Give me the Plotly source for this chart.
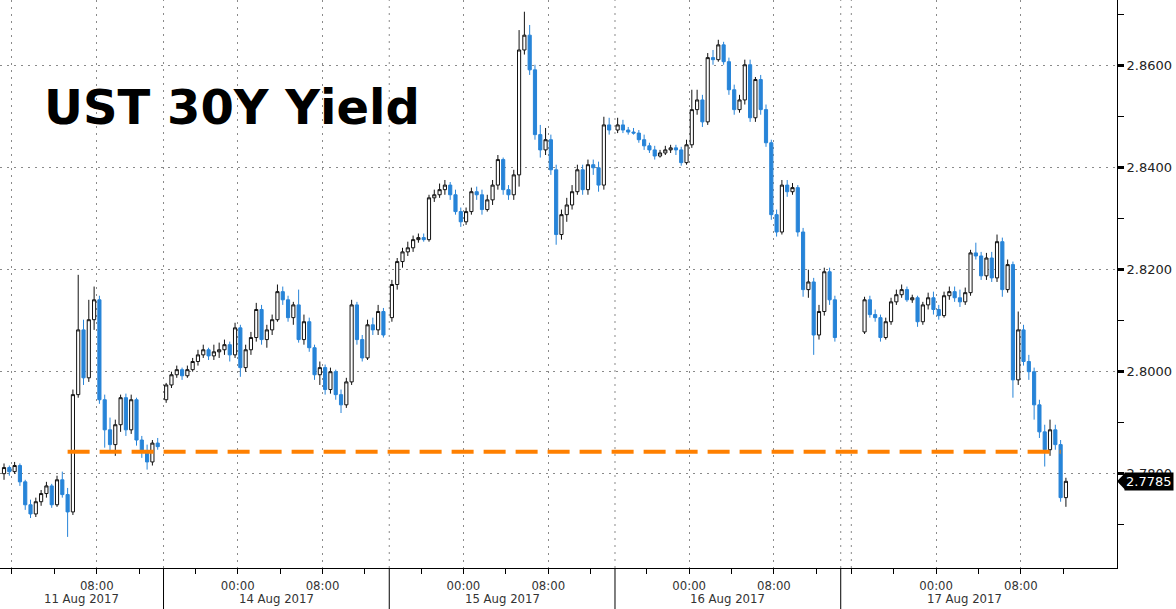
import plotly.graph_objects as go

# ---------------- axis / session definitions (trading-hour axis, pauses removed) ----------------
session_labels = ["11 Aug 2017", "14 Aug 2017", "15 Aug 2017", "16 Aug 2017", "17 Aug 2017"]
session_start = [-5.87, 15.43, 36.73, 58.03, 79.33]
session_open_clock = [17, 17, 17, 17, 15]
session_length = [21.3, 21.3, 21.3, 21.3, 23.3]
first_bar_offset = [6.0, 0.0, 0.0, 0.0, 2.0]
BAR_HOURS = 0.5
X_MAX = 105.4
Y_RANGE = [2.7615, 2.8729]
y_major = [2.78, 2.80, 2.82, 2.84, 2.86]
y_minor = [2.77, 2.79, 2.81, 2.83, 2.85, 2.87]

# ---------------- data (30-minute candles) ----------------
aug11_open = [2.7800, 2.7812, 2.7804, 2.7816, 2.7784, 2.7739, 2.7721, 2.7745, 2.7761, 2.7776,
              2.7739, 2.7788, 2.7759, 2.7725, 2.7955, 2.8082, 2.7988, 2.8102, 2.8141, 2.7945,
              2.7886, 2.7857, 2.7896, 2.7949, 2.7886, 2.7945, 2.7866, 2.7843, 2.7823, 2.7860]
aug11_high = [2.7820, 2.7816, 2.7823, 2.7820, 2.7788, 2.7749, 2.7753, 2.7768, 2.7784, 2.7780,
              2.7796, 2.7804, 2.7772, 2.7965, 2.8190, 2.8102, 2.8141, 2.8167, 2.8149, 2.7955,
              2.7910, 2.7906, 2.7955, 2.7957, 2.7955, 2.7949, 2.7874, 2.7857, 2.7866, 2.7870]
aug11_low = [2.7788, 2.7796, 2.7800, 2.7776, 2.7729, 2.7713, 2.7715, 2.7737, 2.7753, 2.7733,
             2.7735, 2.7753, 2.7676, 2.7719, 2.7949, 2.7974, 2.7980, 2.8082, 2.7937, 2.7851,
             2.7843, 2.7835, 2.7882, 2.7874, 2.7878, 2.7855, 2.7831, 2.7808, 2.7816, 2.7847]
aug11_close = [2.7812, 2.7804, 2.7816, 2.7784, 2.7739, 2.7721, 2.7745, 2.7761, 2.7776, 2.7739,
               2.7788, 2.7759, 2.7725, 2.7955, 2.8082, 2.7988, 2.8102, 2.8141, 2.7945, 2.7886,
               2.7857, 2.7896, 2.7949, 2.7886, 2.7945, 2.7866, 2.7843, 2.7823, 2.7860, 2.7853]

aug14_open = [2.7945, 2.7974, 2.7994, 2.8004, 2.7992, 2.8004, 2.8020, 2.8033, 2.8043, 2.8031,
              2.8039, 2.8043, 2.8053, 2.8033, 2.8086, 2.8008, 2.8043, 2.8067, 2.8122, 2.8063,
              2.8082, 2.8102, 2.8157, 2.8141, 2.8106, 2.8131, 2.8063, 2.8098, 2.8047, 2.7994,
              2.8008, 2.7965, 2.8000, 2.7955, 2.7935, 2.7980, 2.8131, 2.8063, 2.8027, 2.8092,
              2.8082, 2.8118]
aug14_high = [2.7978, 2.8000, 2.8012, 2.8008, 2.8012, 2.8027, 2.8043, 2.8053, 2.8047, 2.8053,
              2.8057, 2.8063, 2.8059, 2.8096, 2.8092, 2.8053, 2.8078, 2.8135, 2.8131, 2.8092,
              2.8112, 2.8171, 2.8167, 2.8149, 2.8137, 2.8161, 2.8112, 2.8106, 2.8053, 2.8020,
              2.8014, 2.8008, 2.8004, 2.7965, 2.7988, 2.8141, 2.8137, 2.8072, 2.8102, 2.8106,
              2.8131, 2.8125]
aug14_low = [2.7939, 2.7968, 2.7988, 2.7984, 2.7988, 2.8000, 2.8012, 2.8027, 2.8023, 2.8023,
             2.8027, 2.8033, 2.8020, 2.8027, 2.7990, 2.8000, 2.8033, 2.8059, 2.8053, 2.8047,
             2.8072, 2.8098, 2.8131, 2.8098, 2.8092, 2.8057, 2.8053, 2.8039, 2.7984, 2.7974,
             2.7955, 2.7957, 2.7945, 2.7919, 2.7929, 2.7974, 2.8053, 2.8020, 2.8023, 2.8072,
             2.8072, 2.8067]
aug14_close = [2.7974, 2.7994, 2.8004, 2.7992, 2.8004, 2.8020, 2.8033, 2.8043, 2.8031, 2.8039,
               2.8043, 2.8053, 2.8033, 2.8086, 2.8008, 2.8043, 2.8067, 2.8122, 2.8063, 2.8082,
               2.8102, 2.8157, 2.8141, 2.8106, 2.8131, 2.8063, 2.8098, 2.8047, 2.7994, 2.8008,
               2.7965, 2.8000, 2.7955, 2.7935, 2.7980, 2.8131, 2.8063, 2.8027, 2.8092, 2.8082,
               2.8118, 2.8072]

aug15_open = [2.8106, 2.8171, 2.8216, 2.8235, 2.8243, 2.8259, 2.8263, 2.8259, 2.8341, 2.8347,
              2.8357, 2.8366, 2.8347, 2.8314, 2.8294, 2.8314, 2.8353, 2.8347, 2.8318, 2.8337,
              2.8366, 2.8416, 2.8357, 2.8347, 2.8386, 2.8631, 2.8660, 2.8592, 2.8465, 2.8435,
              2.8455, 2.8396, 2.8269, 2.8308, 2.8327, 2.8353, 2.8396, 2.8357, 2.8406, 2.8400,
              2.8366, 2.8484]
aug15_high = [2.8180, 2.8223, 2.8243, 2.8255, 2.8267, 2.8271, 2.8271, 2.8347, 2.8357, 2.8369,
              2.8376, 2.8372, 2.8357, 2.8322, 2.8322, 2.8361, 2.8363, 2.8357, 2.8347, 2.8376,
              2.8425, 2.8420, 2.8366, 2.8396, 2.8670, 2.8706, 2.8680, 2.8602, 2.8484, 2.8478,
              2.8465, 2.8406, 2.8318, 2.8341, 2.8366, 2.8406, 2.8406, 2.8416, 2.8416, 2.8412,
              2.8500, 2.8498]
aug15_low = [2.8098, 2.8161, 2.8204, 2.8227, 2.8235, 2.8253, 2.8255, 2.8255, 2.8333, 2.8341,
             2.8347, 2.8337, 2.8308, 2.8284, 2.8288, 2.8308, 2.8337, 2.8308, 2.8314, 2.8327,
             2.8357, 2.8347, 2.8337, 2.8337, 2.8363, 2.8622, 2.8582, 2.8455, 2.8420, 2.8425,
             2.8386, 2.8249, 2.8259, 2.8294, 2.8318, 2.8347, 2.8347, 2.8347, 2.8386, 2.8353,
             2.8357, 2.8465]
aug15_close = [2.8171, 2.8216, 2.8235, 2.8243, 2.8259, 2.8263, 2.8259, 2.8341, 2.8347, 2.8357,
               2.8366, 2.8347, 2.8314, 2.8294, 2.8314, 2.8353, 2.8347, 2.8318, 2.8337, 2.8366,
               2.8416, 2.8357, 2.8347, 2.8386, 2.8631, 2.8660, 2.8592, 2.8465, 2.8435, 2.8455,
               2.8396, 2.8269, 2.8308, 2.8327, 2.8353, 2.8396, 2.8357, 2.8406, 2.8400, 2.8366,
               2.8484, 2.8474]

aug16_open = [2.8474, 2.8484, 2.8474, 2.8470, 2.8468, 2.8455, 2.8443, 2.8435, 2.8423, 2.8429,
              2.8435, 2.8439, 2.8435, 2.8410, 2.8445, 2.8514, 2.8533, 2.8490, 2.8616, 2.8612,
              2.8641, 2.8608, 2.8553, 2.8514, 2.8533, 2.8602, 2.8498, 2.8573, 2.8514, 2.8449,
              2.8308, 2.8274, 2.8366, 2.8353, 2.8361, 2.8274, 2.8161, 2.8176, 2.8072, 2.8118,
              2.8196, 2.8141]
aug16_high = [2.8498, 2.8494, 2.8480, 2.8478, 2.8474, 2.8465, 2.8449, 2.8443, 2.8435, 2.8443,
              2.8445, 2.8445, 2.8441, 2.8455, 2.8553, 2.8553, 2.8543, 2.8625, 2.8631, 2.8651,
              2.8647, 2.8616, 2.8563, 2.8543, 2.8612, 2.8612, 2.8578, 2.8582, 2.8524, 2.8455,
              2.8318, 2.8376, 2.8376, 2.8370, 2.8366, 2.8282, 2.8200, 2.8184, 2.8131, 2.8204,
              2.8204, 2.8149]
aug16_low = [2.8468, 2.8468, 2.8465, 2.8465, 2.8449, 2.8435, 2.8429, 2.8416, 2.8420, 2.8425,
             2.8429, 2.8425, 2.8404, 2.8406, 2.8439, 2.8504, 2.8480, 2.8484, 2.8602, 2.8608,
             2.8602, 2.8543, 2.8504, 2.8508, 2.8524, 2.8490, 2.8490, 2.8504, 2.8441, 2.8298,
             2.8265, 2.8269, 2.8343, 2.8347, 2.8265, 2.8147, 2.8145, 2.8033, 2.8063, 2.8110,
             2.8131, 2.8059]
aug16_close = [2.8484, 2.8474, 2.8470, 2.8468, 2.8455, 2.8443, 2.8435, 2.8423, 2.8429, 2.8435,
               2.8439, 2.8435, 2.8410, 2.8445, 2.8514, 2.8533, 2.8490, 2.8616, 2.8612, 2.8641,
               2.8608, 2.8553, 2.8514, 2.8533, 2.8602, 2.8498, 2.8573, 2.8514, 2.8449, 2.8308,
               2.8274, 2.8366, 2.8353, 2.8361, 2.8274, 2.8161, 2.8176, 2.8072, 2.8118, 2.8196,
               2.8141, 2.8067]

aug17_open = [2.8078, 2.8141, 2.8112, 2.8106, 2.8067, 2.8098, 2.8137, 2.8151, 2.8161, 2.8141,
              2.8145, 2.8098, 2.8131, 2.8145, 2.8122, 2.8110, 2.8149, 2.8157, 2.8145, 2.8137,
              2.8155, 2.8233, 2.8227, 2.8188, 2.8223, 2.8184, 2.8255, 2.8161, 2.8210, 2.7984,
              2.8082, 2.8020, 2.8000, 2.7935, 2.7882, 2.7847, 2.7886, 2.7857, 2.7753]
aug17_high = [2.8147, 2.8149, 2.8122, 2.8112, 2.8106, 2.8145, 2.8161, 2.8171, 2.8167, 2.8151,
              2.8149, 2.8137, 2.8155, 2.8157, 2.8131, 2.8157, 2.8167, 2.8167, 2.8161, 2.8165,
              2.8239, 2.8253, 2.8235, 2.8233, 2.8235, 2.8269, 2.8263, 2.8220, 2.8216, 2.8118,
              2.8092, 2.8033, 2.8008, 2.7945, 2.7896, 2.7906, 2.7896, 2.7866, 2.7792]
aug17_low = [2.8074, 2.8106, 2.8098, 2.8059, 2.8063, 2.8092, 2.8131, 2.8145, 2.8137, 2.8135,
             2.8088, 2.8092, 2.8122, 2.8112, 2.8102, 2.8106, 2.8141, 2.8137, 2.8127, 2.8131,
             2.8149, 2.8220, 2.8180, 2.8180, 2.8176, 2.8176, 2.8147, 2.8155, 2.7949, 2.7974,
             2.8012, 2.7984, 2.7906, 2.7870, 2.7814, 2.7835, 2.7847, 2.7745, 2.7735]
aug17_close = [2.8141, 2.8112, 2.8106, 2.8067, 2.8098, 2.8137, 2.8151, 2.8161, 2.8141, 2.8145,
               2.8098, 2.8131, 2.8145, 2.8122, 2.8110, 2.8149, 2.8157, 2.8145, 2.8137, 2.8155,
               2.8233, 2.8227, 2.8188, 2.8223, 2.8184, 2.8255, 2.8161, 2.8210, 2.7984, 2.8082,
               2.8020, 2.8000, 2.7935, 2.7882, 2.7847, 2.7886, 2.7857, 2.7753, 2.7785]

last_value = 2.7785
ref_level = 2.7843          # orange dashed reference level
ref_from = (0, 12)          # (session, bar) where reference line starts
ref_to = (4, 37)            # (session, bar) where reference line ends

title_text = "UST 30Y Yield"

# ---------------- build series ----------------
opens = [aug11_open, aug14_open, aug15_open, aug16_open, aug17_open]
highs = [aug11_high, aug14_high, aug15_high, aug16_high, aug17_high]
lows = [aug11_low, aug14_low, aug15_low, aug16_low, aug17_low]
closes = [aug11_close, aug14_close, aug15_close, aug16_close, aug17_close]

bar_x = []
X, O, H, L, C = [], [], [], [], []
for k in range(len(session_labels)):
    n = min(len(opens[k]), len(highs[k]), len(lows[k]), len(closes[k]))
    xs = [session_start[k] + first_bar_offset[k] + (i + 0.5) * BAR_HOURS for i in range(n)]
    bar_x.append(xs)
    X += xs
    O += opens[k][:n]
    H += highs[k][:n]
    L += lows[k][:n]
    C += closes[k][:n]

BLUE = "#2784d8"
fig = go.Figure()
fig.add_trace(go.Candlestick(
    x=X, open=O, high=H, low=L, close=C,
    increasing=dict(fillcolor="white", line=dict(color="#111111", width=1)),
    decreasing=dict(fillcolor=BLUE, line=dict(color=BLUE, width=1)),
    whiskerwidth=0, showlegend=False, hoverinfo="skip",
))


def clock_pos(k, hour):
    d = (hour - session_open_clock[k]) % 24
    if d > session_length[k]:
        return None
    return session_start[k] + d


major_vals, major_text, minor_vals = [], [], []
for k in range(len(session_labels)):
    for hr in (0, 8):
        p = clock_pos(k, hr)
        if p is not None and 0 <= p <= X_MAX:
            major_vals.append(p)
            major_text.append(f"{hr:02d}:00" if p > 3 else "")
    for hr in (16, 20, 0, 4, 8, 12):
        p = clock_pos(k, hr)
        if p is not None and 0 <= p <= X_MAX:
            minor_vals.append(p)

GRID = "#8a8a8a"
shapes = []
# session separators: dotted grid inside, solid tick below axis
for k in range(1, len(session_labels)):
    xs = session_start[k]
    shapes.append(dict(type="line", xref="x", yref="paper", x0=xs, x1=xs, y0=0, y1=1,
                       line=dict(color=GRID, width=1, dash="2px,5px"), layer="below"))
    shapes.append(dict(type="line", xref="x", yref="paper", x0=xs, x1=xs, y0=0, y1=-0.09,
                       line=dict(color="black", width=1)))
# extra grid at first 4h mark of the last (early-open) session
p_extra = clock_pos(4, 16)
shapes.append(dict(type="line", xref="x", yref="paper", x0=p_extra, x1=p_extra, y0=0, y1=1,
                   line=dict(color=GRID, width=1, dash="2px,5px"), layer="below"))
# orange reference line
shapes.append(dict(type="line", xref="x", yref="y",
                   x0=bar_x[ref_from[0]][ref_from[1]], x1=bar_x[ref_to[0]][ref_to[1]],
                   y0=ref_level, y1=ref_level,
                   line=dict(color="#ff8000", width=4, dash="22px,10px"), layer="above"))
# small pointer of the last-value tag
dy = 0.0017
shapes.append(dict(type="path", xref="paper", yref="y",
                   path=f"M 1.0 {last_value} L 1.0075 {last_value + dy} L 1.0075 {last_value - dy} Z",
                   fillcolor="black", line=dict(color="black", width=0)))

annotations = []
for k, lab in enumerate(session_labels):
    a = max(session_start[k], 0)
    b = min(session_start[k] + session_length[k], X_MAX)
    annotations.append(dict(x=(a + b) / 2, y=0, xref="x", yref="paper", text=lab,
                            showarrow=False, yanchor="top", yshift=-21,
                            font=dict(family="DejaVu Sans Condensed, DejaVu Sans", size=13, color="#333333")))
annotations.append(dict(x=0.038, y=0.812, xref="paper", yref="paper", xanchor="left", yanchor="middle",
                        text=f"<b>{title_text}</b>", showarrow=False,
                        font=dict(family="DejaVu Sans", size=48, color="black")))
annotations.append(dict(x=1, y=last_value, xref="paper", yref="y", xanchor="left", yanchor="middle",
                        xshift=7, text=f"{last_value:.4f}", showarrow=False, bgcolor="black",
                        borderpad=1, font=dict(family="DejaVu Sans", size=13, color="white")))

fig.update_layout(
    width=1176, height=609,
    margin=dict(l=0, r=59, t=0, b=41),
    paper_bgcolor="white", plot_bgcolor="white",
    showlegend=False, hovermode=False,
    boxgap=0.15,
    shapes=shapes, annotations=annotations,
    xaxis=dict(
        range=[0, X_MAX], rangeslider=dict(visible=False),
        tickmode="array", tickvals=major_vals, ticktext=major_text,
        ticks="outside", ticklen=5, tickcolor="black", tickwidth=1,
        showline=True, linecolor="black", linewidth=1,
        showgrid=True, gridcolor=GRID, gridwidth=1, griddash="2px,5px",
        zeroline=False,
        minor=dict(tickvals=minor_vals, ticks="outside", ticklen=5, tickcolor="black", showgrid=False),
        tickfont=dict(family="DejaVu Sans Condensed, DejaVu Sans", size=13, color="#333333"),
    ),
    yaxis=dict(
        side="right", range=Y_RANGE,
        tickmode="array", tickvals=y_major, tickformat=".4f",
        ticks="outside", ticklen=6, tickwidth=3, tickcolor="black",
        showline=True, linecolor="black", linewidth=1,
        showgrid=True, gridcolor=GRID, gridwidth=1, griddash="2px,5px",
        zeroline=False,
        minor=dict(tickvals=y_minor, ticks="outside", ticklen=6, tickwidth=1, tickcolor="black", showgrid=False),
        tickfont=dict(family="DejaVu Sans", size=13, color="#222222"),
    ),
)

fig.write_html("out.html", config={"displayModeBar": False},
               post_script="document.body.style.margin='0px';document.body.style.overflow='hidden';")
